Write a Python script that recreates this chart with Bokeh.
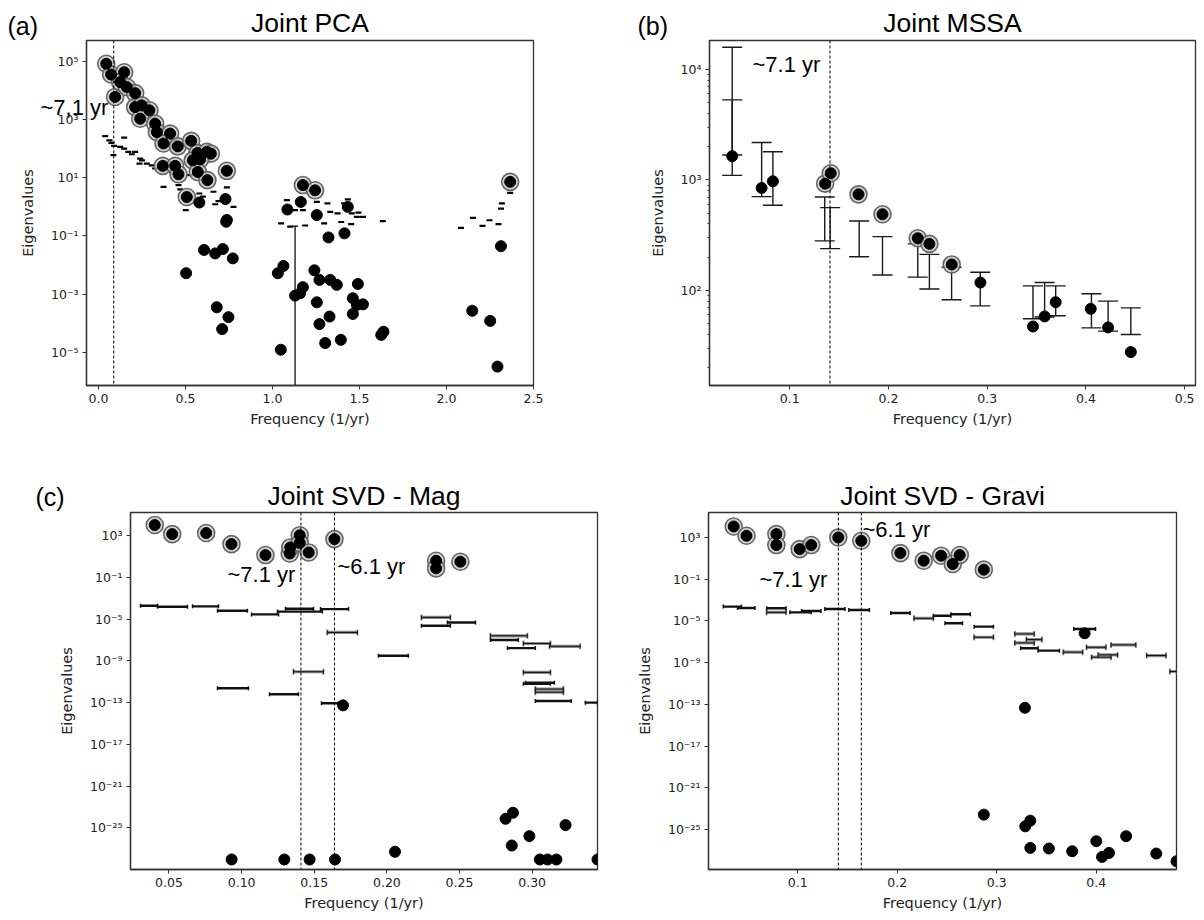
from bokeh.plotting import figure
from bokeh.models import (Range1d, FixedTicker, Span, Label, Whisker, TeeHead, GridBox,
                          ColumnDataSource, CustomJSTickFormatter, PrintfTickFormatter)
from bokeh.layouts import column, row
from bokeh.embed import file_html
from bokeh.resources import INLINE

# ---------------- Panel (a) Joint PCA  (frequency, log10 eigenvalue) -------------
a_halo_f = [0.045, 0.073, 0.148, 0.096, 0.125, 0.163, 0.211, 0.211, 0.249, 0.293, 0.24,
            0.326, 0.336, 0.412, 0.374, 0.456, 0.533, 0.569, 0.623, 0.646, 0.542, 0.584,
            0.37, 0.441, 0.46, 0.571, 0.626, 0.738, 0.508, 1.175, 1.245, 2.366]
a_halo_e = [4.92, 4.55, 4.63, 3.78, 4.29, 4.12, 3.91, 3.43, 3.49, 3.32, 3.03,
            2.86, 2.57, 2.52, 2.18, 2.08, 2.27, 1.85, 1.89, 1.83, 1.60, 1.63,
            1.41, 1.41, 1.12, 1.20, 0.92, 1.24, 0.34, 0.75, 0.57, 0.86]
a_dot_f = [0.58, 0.73, 0.738, 0.734, 1.086, 1.163, 1.255, 1.433, 1.322, 1.414, 2.313,
           0.504, 0.607, 0.671, 0.715, 0.772, 0.68, 0.747, 0.711, 1.031, 1.063, 1.048,
           1.13, 1.159, 1.175, 1.241, 1.27, 1.332, 1.37, 1.491, 1.462, 1.485, 1.52,
           1.462, 1.255, 1.328, 1.27, 1.303, 1.393, 1.625, 1.638, 2.148, 2.251, 2.293]
a_dot_e = [0.15, 0.27, -0.45, -0.51, -0.09, 0.17, -0.28, 0.0, -1.05, -0.91, -1.35,
           -2.28, -1.48, -1.6, -1.45, -1.77, -3.45, -3.79, -4.2, -2.28, -2.03, -4.91,
           -3.05, -2.97, -2.76, -2.18, -2.51, -2.51, -2.68, -2.65, -3.14, -3.37, -3.35,
           -3.68, -3.28, -3.77, -4.03, -4.68, -4.57, -4.4, -4.29, -3.57, -3.92, -5.49]
a_bar_f = [0.039, 0.063, 0.075, 0.09, 0.148, 0.125, 0.148, 0.172, 0.211, 0.192, 0.24,
           0.25, 0.236, 0.278, 0.307, 0.326, 0.086, 0.374, 0.46, 0.47, 0.502, 0.58,
           0.6, 0.671, 0.69, 0.738, 0.776, 0.661, 0.428, 0.527,
           1.083, 1.13, 1.175, 1.255, 1.316, 1.332, 1.374, 1.412, 1.433, 1.456, 1.485,
           1.52, 1.634, 1.05, 1.102, 1.188, 1.297, 1.395, 1.452, 1.494, 2.318, 2.083,
           2.152, 2.207, 2.247, 2.299, 2.313, 2.366]
a_bar_e = [2.43, 2.29, 2.2, 2.1, 2.38, 2.06, 2.0, 1.89, 1.89, 1.81, 1.66,
           1.6, 1.49, 1.49, 1.43, 1.32, 1.78, 0.69, 0.75, 0.6, -0.11, 0.46,
           0.35, 0.09, 0.2, 0.67, 0.0, 0.52, 1.15, 1.09,
           0.23, -0.11, -0.11, 0.17, 0.12, -0.17, -0.22, 0.12, 0.26, -0.22, -0.34,
           -0.34, -0.49, -0.57, -0.68, -0.64, -0.57, -0.52, -0.59, -0.2, 0.12, -0.72,
           -0.38, -0.65, -0.46, -0.59, -0.06, 0.48]
a_long_f = [1.13]
a_long_top_e = [-0.66]
a_line_f = 0.088

# ---------------- Panel (b) Joint MSSA ---------------------------------------------
b_dot_f = [0.0418, 0.0716, 0.083, 0.2932, 0.3464, 0.3582, 0.3694, 0.4049, 0.4225, 0.4455]
b_dot_v = [1640, 847, 973, 118, 47.2, 58.2, 78.3, 68.2, 46.3, 27.7]
b_halo_f = [0.1359, 0.1416, 0.1697, 0.194, 0.2297, 0.2415, 0.2641]
b_halo_v = [926, 1150, 741, 489, 297, 264, 172]
b_err_f = [0.0418, 0.0418, 0.0716, 0.083, 0.1355, 0.141, 0.1704, 0.194, 0.2297, 0.2415,
           0.264, 0.293, 0.3464, 0.3582, 0.3694, 0.4056, 0.4225, 0.4455]
b_err_lo = [1100, 1680, 707, 590, 281, 239, 202, 138, 132, 103, 82.4, 72.6, 55.4, 57.5,
            59, 45.9, 42.9, 40]
b_err_hi = [5300, 15900, 2180, 1800, 702, 562, 425, 307, 264, 212, 162, 146, 110, 118,
            110, 93.3, 80, 69.6]
b_line_f = 1 / 7.1

# ---------------- Panel (c) Joint SVD - Mag ------------------------------------------
c_halo_f = [0.0402, 0.0522, 0.0756, 0.093, 0.1164, 0.1331, 0.1335, 0.1400, 0.1400,
            0.1462, 0.1639, 0.2339, 0.2339, 0.2506]
c_halo_e = [4.03, 3.16, 3.26, 2.2, 1.15, 1.3, 1.88, 3.05, 2.3, 1.4, 2.68, 0.6, -0.13, 0.51]
c_dot_f = [0.0931, 0.1294, 0.1468, 0.1643, 0.2056, 0.2817, 0.2868, 0.286, 0.2981,
           0.3053, 0.3106, 0.3167, 0.323, 0.345, 0.1698]
c_dot_e = [-28.04, -28.04, -28.04, -28.04, -27.3, -24.14, -23.56, -26.7, -25.8,
           -28.04, -28.04, -28.04, -24.74, -28.04, -13.26]
c_bar_f0 = [0.0304, 0.0421, 0.0662, 0.0834, 0.1068, 0.1247, 0.1302, 0.1543, 0.1942,
            0.2238, 0.2417, 0.2713, 0.283, 0.294, 0.0834, 0.1192, 0.155, 0.2954,
            0.3022, 0.3366]
c_bar_f1 = [0.0421, 0.0627, 0.0841, 0.104, 0.1254, 0.1556, 0.1495, 0.1736, 0.2148,
            0.2437, 0.261, 0.2905, 0.3022, 0.3126, 0.1047, 0.1391, 0.1667, 0.3153,
            0.327, 0.345]
c_bar_e = [-3.71, -3.8, -3.77, -4.19, -4.54, -4.27, -4.0, -4.03, -8.5,
           -5.63, -5.31, -7.0, -7.77, -11.2, -11.62, -12.2, -13.06, -11.1,
           -12.84, -13.0]
c_gbar_f0 = [0.159, 0.2238, 0.2713, 0.294, 0.294, 0.1357, 0.3022, 0.3022, 0.312]
c_gbar_f1 = [0.1797, 0.2437, 0.2967, 0.3126, 0.3126, 0.1563, 0.3215, 0.3215, 0.333]
c_gbar_e = [-6.27, -4.83, -6.59, -7.33, -10.1, -10.04, -11.7, -12.0, -7.6]
c_lines = [1 / 7.1, 1 / 6.1]

# ---------------- Panel (d) Joint SVD - Gravi ----------------------------------------
d_halo_f = [0.0357, 0.0486, 0.0786, 0.0786, 0.102, 0.1136, 0.1408, 0.1639, 0.2032,
            0.2266, 0.2441, 0.2558, 0.2628, 0.287]
d_halo_e = [4.05, 3.16, 3.32, 2.27, 1.88, 2.27, 3.0, 2.68, 1.5, 0.77, 1.25, 0.45, 1.31, -0.09]
d_dot_f = [0.3283, 0.287, 0.3287, 0.3337, 0.3337, 0.3524, 0.3758, 0.3883, 0.4, 0.4058,
           0.4128, 0.43, 0.4603, 0.4806]
d_dot_e = [-13.33, -23.57, -24.69, -24.15, -26.76, -26.82, -27.08, -6.19, -26.12, -27.62,
           -27.24, -25.64, -27.3, -28.04]
d_bar_f0 = [0.0252, 0.0396, 0.0688, 0.0922, 0.1039, 0.1273, 0.1514, 0.1935, 0.2363,
            0.248, 0.2539, 0.2773, 0.324, 0.3415, 0.3774]
d_bar_f1 = [0.0435, 0.0571, 0.0883, 0.1136, 0.1234, 0.1475, 0.1721, 0.213, 0.2539,
            0.2656, 0.2734, 0.2967, 0.3415, 0.363, 0.3992]
d_bar_e = [-3.63, -3.76, -3.79, -4.18, -4.05, -3.86, -3.95, -4.24, -4.5,
           -5.23, -4.37, -5.55, -7.62, -7.85, -5.77]
d_gbar_f0 = [0.0688, 0.2169, 0.2773, 0.3182, 0.3182, 0.3298, 0.3669, 0.3902, 0.3953,
             0.4019, 0.4148, 0.4506, 0.474]
d_gbar_f1 = [0.0883, 0.2363, 0.2967, 0.3376, 0.3376, 0.3454, 0.3863, 0.4097, 0.4148,
             0.4214, 0.4397, 0.4701, 0.4806]
d_gbar_e = [-4.18, -4.75, -6.57, -6.25, -7.11, -6.79, -8.0, -7.53, -8.48, -8.26, -7.3,
            -8.32, -9.85]
d_lines = [1 / 7.1, 1 / 6.1]

# ---------------- styling helpers ------------------------------------------------------
TICK_FONT = "DejaVu Sans"
TITLE_FONT = "Liberation Sans"
INK = "#222222"

SUPFMT = CustomJSTickFormatter(code="""
const e = Math.round(Math.log10(tick));
const m = {'-':'\\u207b','0':'\\u2070','1':'\\u00b9','2':'\\u00b2','3':'\\u00b3',
           '4':'\\u2074','5':'\\u2075','6':'\\u2076','7':'\\u2077','8':'\\u2078','9':'\\u2079'};
return '10' + String(e).split('').map(c => m[c]).join('');
""")


def p10(vals):
    return [10.0 ** v for v in vals]


def make_fig(title, xr, ylog, width, height, borders, xticks, xfmt, yexps, yminor=None,
             title_standoff=4):
    L, R, T, B = borders
    p = figure(width=width, height=height, x_range=Range1d(*xr),
               y_range=Range1d(10.0 ** ylog[0], 10.0 ** ylog[1]), y_axis_type="log",
               output_backend="svg", toolbar_location=None,
               min_border_left=L, min_border_right=R, min_border_top=T, min_border_bottom=B,
               title=title)
    p.title.text_font = TITLE_FONT
    p.title.text_font_size = "26.5px"
    p.title.text_font_style = "normal"
    p.title.align = "center"
    p.title.text_color = "black"
    p.title.standoff = title_standoff
    p.grid.visible = False
    p.outline_line_color = "#333333"
    p.outline_line_width = 1.3
    p.background_fill_color = "white"
    p.border_fill_color = "white"
    for ax in (p.xaxis[0], p.yaxis[0]):
        ax.axis_line_color = "#333333"
        ax.axis_line_width = 1.3
        ax.major_tick_line_color = "#333333"
        ax.major_tick_out = 4
        ax.major_tick_in = 0
        ax.minor_tick_line_color = "#333333"
        ax.minor_tick_out = 2
        ax.minor_tick_in = 0
        ax.major_label_text_font = TICK_FONT
        ax.major_label_text_font_size = "12.5px"
        ax.major_label_text_color = INK
        ax.major_label_standoff = 4
        ax.axis_label_text_font = TICK_FONT
        ax.axis_label_text_font_size = "14.5px"
        ax.axis_label_text_font_style = "normal"
        ax.axis_label_text_color = INK
    p.xaxis.axis_label = "Frequency (1/yr)"
    p.xaxis.axis_label_standoff = 5
    p.yaxis.axis_label = "Eigenvalues"
    p.yaxis.axis_label_standoff = 12
    p.xaxis.ticker = FixedTicker(ticks=xticks, minor_ticks=[])
    p.xaxis.formatter = PrintfTickFormatter(format=xfmt)
    p.yaxis.ticker = FixedTicker(ticks=[float("1e%d" % e) for e in yexps],
                                 minor_ticks=yminor or [])
    p.yaxis.formatter = SUPFMT
    return p


def place(geom, px, py):
    """page pixel -> data coordinates for annotation text inside the frame"""
    L, R, T, B, x0, x1, l0, l1 = geom
    x = x0 + (px - L) / (R - L) * (x1 - x0)
    ly = l1 - (py - T) / (B - T) * (l1 - l0)
    return x, 10.0 ** ly


def add_text(p, geom, px, py, text, size="22px"):
    x, y = place(geom, px, py)
    p.add_layout(Label(x=x, y=y, text=text, text_font=TITLE_FONT, text_font_size=size,
                       text_align="left", text_baseline="middle", text_color="black"))


def vline(p, x):
    p.add_layout(Span(location=x, dimension="height", line_color="black",
                      line_width=1, line_dash="3 2"))


def halo_dots(p, xs, ys):
    p.scatter(xs, ys, size=17, fill_color="#c4c4c4", fill_alpha=0.75,
              line_color="#666666", line_width=1.6)
    p.scatter(xs, ys, size=11, color="black")


def hbars(p, f0, f1, e, gray=False):
    src = ColumnDataSource(dict(y=p10(e), x0=f0, x1=f1))
    if gray:
        p.add_layout(Whisker(source=src, base="y", lower="x0", upper="x1", dimension="width",
                             line_color="#8a8a8a", line_width=3.2,
                             lower_head=TeeHead(size=6, line_color="#8a8a8a", line_width=2),
                             upper_head=TeeHead(size=6, line_color="#8a8a8a", line_width=2)))
        p.add_layout(Whisker(source=src, base="y", lower="x0", upper="x1", dimension="width",
                             line_color="#111111", line_width=1,
                             lower_head=TeeHead(size=4, line_color="#111111", line_width=1),
                             upper_head=TeeHead(size=4, line_color="#111111", line_width=1)))
    else:
        p.add_layout(Whisker(source=src, base="y", lower="x0", upper="x1", dimension="width",
                             line_color="#111111", line_width=2.4,
                             lower_head=TeeHead(size=4, line_color="#111111", line_width=1.5),
                             upper_head=TeeHead(size=4, line_color="#111111", line_width=1.5)))


# ---------------- (a) --------------------------------------------------------------------
pa = make_fig("Joint PCA", (-0.0685, 2.5), (-6.14, 5.72), 600, 440, (86, 67, 40, 55),
              [0.0, 0.5, 1.0, 1.5, 2.0, 2.5], "%.1f", [-5, -3, -1, 1, 3, 5], title_standoff=5)
vline(pa, a_line_f)
pa.scatter(a_bar_f, p10(a_bar_e), marker="dash", size=6, line_width=2.2, color="black")
pa.segment(x0=a_long_f, y0=[10.0 ** -6.14] * len(a_long_f), x1=a_long_f,
           y1=p10(a_long_top_e), line_color="#222222", line_width=1.4)
pa.scatter(a_long_f, p10(a_long_top_e), marker="dash", size=6, line_width=1.4, color="black")
halo_dots(pa, a_halo_f, p10(a_halo_e))
pa.scatter(a_dot_f, p10(a_dot_e), size=11, color="black")

# ---------------- (b) --------------------------------------------------------------------
gb = (709, 1195, 40, 385, 0.0188, 0.511, 1.14, 4.262)
bminor = [m * 10 ** k for k in (1, 2, 3) for m in range(2, 10)] + [20000.0]
pb = make_fig("Joint MSSA", (0.0188, 0.511), (1.14, 4.262), 600, 440, (109, 5, 40, 55),
              [0.1, 0.2, 0.3, 0.4, 0.5], "%.1f", [2, 3, 4], yminor=bminor, title_standoff=5)
vline(pb, b_line_f)
esrc = ColumnDataSource(dict(x=b_err_f, lo=b_err_lo, hi=b_err_hi))
pb.add_layout(Whisker(source=esrc, base="x", lower="lo", upper="hi", dimension="height",
                      line_color="#1a1a1a", line_width=1.4,
                      lower_head=TeeHead(size=20, line_color="#1a1a1a", line_width=1.4),
                      upper_head=TeeHead(size=20, line_color="#1a1a1a", line_width=1.4)))
halo_dots(pb, b_halo_f, b_halo_v)
pb.scatter(b_dot_f, b_dot_v, size=11, color="black")
add_text(pb, gb, 752, 64, "~7.1 yr")

# ---------------- (c) --------------------------------------------------------------------
gc = (130, 597, 512, 869, 0.0235, 0.345, -29.0, 5.23)
yex = [-25, -21, -17, -13, -9, -5, -1, 3]
pc = make_fig("Joint SVD - Mag", (0.0235, 0.345), (-29.0, 5.23), 600, 478, (130, 3, 72, 49),
              [0.05, 0.10, 0.15, 0.20, 0.25, 0.30], "%.2f", yex, title_standoff=4)
for xl in c_lines:
    vline(pc, xl)
hbars(pc, c_gbar_f0, c_gbar_f1, c_gbar_e, gray=True)
hbars(pc, c_bar_f0, c_bar_f1, c_bar_e)
halo_dots(pc, c_halo_f, p10(c_halo_e))
pc.scatter(c_dot_f, p10(c_dot_e), size=11, color="black")
add_text(pc, gc, 227, 574, "~7.1 yr")
add_text(pc, gc, 337, 566, "~6.1 yr")

# ---------------- (d) --------------------------------------------------------------------
gd = (708, 1176, 512, 869, 0.0104, 0.4806, -28.83, 5.39)
pd_ = make_fig("Joint SVD - Gravi", (0.0104, 0.4806), (-28.83, 5.39), 600, 478,
               (108, 24, 72, 49), [0.1, 0.2, 0.3, 0.4], "%.1f", yex, title_standoff=4)
for xl in d_lines:
    vline(pd_, xl)
hbars(pd_, d_gbar_f0, d_gbar_f1, d_gbar_e, gray=True)
hbars(pd_, d_bar_f0, d_bar_f1, d_bar_e)
halo_dots(pd_, d_halo_f, p10(d_halo_e))
pd_.scatter(d_dot_f, p10(d_dot_e), size=11, color="black")
add_text(pd_, gd, 759, 579, "~7.1 yr")
add_text(pd_, gd, 862, 529, "~6.1 yr")

# ---------------- transparent overlay for texts that cross frame borders ----------------
ov = figure(width=1200, height=918, x_range=Range1d(0, 1200), y_range=Range1d(918, 0),
            output_backend="svg", toolbar_location=None, min_border=0,
            x_axis_location=None, y_axis_location=None)
ov.grid.visible = False
ov.outline_line_color = None
ov.background_fill_alpha = 0
ov.border_fill_alpha = 0
for (px, py, txt, fs) in [(40, 107, "~7,1 yr", "22px"), (7, 25, "(a)", "25px"),
                          (637, 25, "(b)", "25px"), (35, 496, "(c)", "25px")]:
    ov.add_layout(Label(x=px, y=py, text=txt, text_font=TITLE_FONT, text_font_size=fs,
                        text_align="left", text_baseline="middle", text_color="black"))

panels = column(row(pa, pb, spacing=0), row(pc, pd_, spacing=0), spacing=0)
layout = GridBox(children=[(panels, 0, 0), (ov, 0, 0)], spacing=0)
with open("out.html", "w", encoding="utf-8") as fh:
    fh.write(file_html(layout, INLINE))
